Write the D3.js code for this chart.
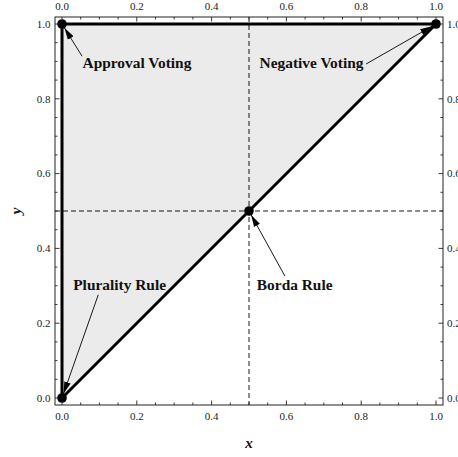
<!DOCTYPE html>
<html>
<head>
<meta charset="utf-8">
<script src="https://cdn.jsdelivr.net/npm/d3@7"></script>
<style>
body { margin: 0; background: #fff; }
</style>
</head>
<body>
<div id="chart"></div>
<script>
// region vertices and edges
const regionPts = [[0, 0], [0, 1], [1, 1]];
const edges = [[[0, 0], [0, 1]], [[0, 1], [1, 1]], [[0, 0], [1, 1]]];
const rules = [
  {name: "Approval Voting", px: 0, py: 1, lx: 0.055, ly: 0.882, anchor: "start", tx: 0.0535, ty: 0.914},
  {name: "Negative Voting", px: 1, py: 1, lx: 0.806, ly: 0.882, anchor: "end", tx: 0.813, ty: 0.893},
  {name: "Plurality Rule", px: 0, py: 0, lx: 0.030, ly: 0.288, anchor: "start", tx: 0.097, ty: 0.276},
  {name: "Borda Rule", px: 0.5, py: 0.5, lx: 0.521, ly: 0.288, anchor: "start", tx: 0.596, ty: 0.326}
];
const majorTicks = [0, 0.2, 0.4, 0.6, 0.8, 1.0];
const minorTicks = d3.range(0, 21).map(i => i * 0.05);

const width = 458, height = 457;
const serif = "'Liberation Serif', 'Times New Roman', serif";
const x = d3.scaleLinear().domain([0, 1]).range([62, 436]);
const y = d3.scaleLinear().domain([0, 1]).range([398, 24]);
const pad = 7;
const fx0 = x(0) - pad, fx1 = x(1) + pad, fy0 = y(1) - pad, fy1 = y(0) + pad;

const svg = d3.select("#chart").append("svg")
  .attr("width", width).attr("height", height)
  .style("font-family", serif);

svg.append("defs").append("marker")
  .attr("id", "arr").attr("viewBox", "0 -5 12 10")
  .attr("refX", 12).attr("refY", 0)
  .attr("markerWidth", 12).attr("markerHeight", 10)
  .attr("markerUnits", "userSpaceOnUse").attr("orient", "auto")
  .append("path").attr("d", "M0,-3.3L12,0L0,3.3Z").attr("fill", "#000");

// shaded region
svg.append("path")
  .attr("d", d3.line().x(d => x(d[0])).y(d => y(d[1]))(regionPts) + "Z")
  .attr("fill", "#ebebeb");

// dashed guide lines
svg.append("line").attr("x1", x(0.5)).attr("x2", x(0.5)).attr("y1", fy0).attr("y2", fy1)
  .attr("stroke", "#000").attr("stroke-dasharray", "5,3").attr("stroke-width", 0.9);
svg.append("line").attr("x1", fx0).attr("x2", fx1).attr("y1", y(0.5)).attr("y2", y(0.5))
  .attr("stroke", "#000").attr("stroke-dasharray", "5,3").attr("stroke-width", 0.9);

// edges
svg.selectAll(".edge").data(edges).join("line")
  .attr("x1", d => x(d[0][0])).attr("y1", d => y(d[0][1]))
  .attr("x2", d => x(d[1][0])).attr("y2", d => y(d[1][1]))
  .attr("stroke", "#000").attr("stroke-width", 3).attr("stroke-linecap", "round");

// points
svg.selectAll(".pt").data(rules).join("circle")
  .attr("cx", d => x(d.px)).attr("cy", d => y(d.py)).attr("r", 4.8).attr("fill", "#000");

// arrows
const tip = (d, k) => {
  const dx = x(d.px) - x(d.tx), dy = y(d.py) - y(d.ty), L = Math.hypot(dx, dy);
  return k === "x" ? x(d.px) - dx / L * 4.5 : y(d.py) - dy / L * 4.5;
};
svg.selectAll(".arrow").data(rules).join("line")
  .attr("x1", d => x(d.tx)).attr("y1", d => y(d.ty))
  .attr("x2", d => tip(d, "x")).attr("y2", d => tip(d, "y"))
  .attr("stroke", "#000").attr("stroke-width", 0.9).attr("marker-end", "url(#arr)");

// labels
svg.selectAll(".lbl").data(rules).join("text")
  .attr("x", d => x(d.lx)).attr("y", d => y(d.ly))
  .attr("text-anchor", d => d.anchor)
  .attr("font-size", 15.4).attr("font-weight", "bold").attr("fill", "#111")
  .text(d => d.name);

// frame
svg.append("rect").attr("x", fx0).attr("y", fy0)
  .attr("width", fx1 - fx0).attr("height", fy1 - fy0)
  .attr("fill", "none").attr("stroke", "#222").attr("stroke-width", 1);

// ticks
const fmt = d3.format(".1f");
const g = svg.append("g").attr("stroke", "#222").attr("stroke-width", 0.9);
minorTicks.forEach(t => {
  const major = majorTicks.some(m => Math.abs(m - t) < 1e-9);
  const len = major ? 4.5 : 2.5;
  g.append("line").attr("x1", x(t)).attr("x2", x(t)).attr("y1", fy1).attr("y2", fy1 - len);
  g.append("line").attr("x1", x(t)).attr("x2", x(t)).attr("y1", fy0).attr("y2", fy0 + len);
  g.append("line").attr("y1", y(t)).attr("y2", y(t)).attr("x1", fx0).attr("x2", fx0 + len);
  g.append("line").attr("y1", y(t)).attr("y2", y(t)).attr("x1", fx1).attr("x2", fx1 - len);
});

const tl = svg.append("g").attr("font-size", 11).attr("fill", "#222");
majorTicks.forEach(t => {
  tl.append("text").attr("x", x(t)).attr("y", fy1 + 14.5).attr("text-anchor", "middle").text(fmt(t));
  tl.append("text").attr("x", x(t)).attr("y", fy0 - 7.5).attr("text-anchor", "middle").text(fmt(t));
  tl.append("text").attr("x", fx0 - 4.5).attr("y", y(t) + 3.7).attr("text-anchor", "end").text(fmt(t));
  tl.append("text").attr("x", fx1 + 4).attr("y", y(t) + 3.7).attr("text-anchor", "start").text(fmt(t));
});

// axis titles
svg.append("text").attr("x", x(0.5)).attr("y", 448).attr("text-anchor", "middle")
  .attr("font-size", 15).attr("font-weight", "bold").attr("font-style", "italic").attr("fill", "#111").text("x");
svg.append("text").attr("transform", `translate(21,${y(0.5)}) rotate(-90)`).attr("text-anchor", "middle")
  .attr("font-size", 15).attr("font-weight", "bold").attr("font-style", "italic").attr("fill", "#111").text("y");
</script>
</body>
</html>
